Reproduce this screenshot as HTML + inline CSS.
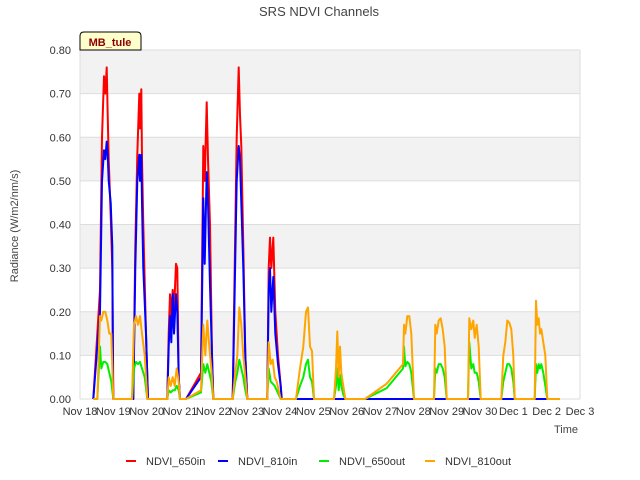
<!DOCTYPE html>
<html><head><meta charset="utf-8"><style>body{margin:0;background:#fff}svg{display:block;font-family:"Liberation Sans","DejaVu Sans",sans-serif}</style></head>
<body>
<svg id="chart" width="640" height="480" viewBox="0 0 640 480">
<text x="319" y="16" text-anchor="middle" font-size="13" fill="#444">SRS NDVI Channels</text>
<g id="bands"></g>
<g id="grid"></g>
<g id="series"></g>
<g id="axes"></g>
<text transform="translate(18,226) rotate(-90)" text-anchor="middle" font-size="11" fill="#444">Radiance (W/m2/nm/s)</text>
<text x="578" y="433" text-anchor="end" font-size="11" fill="#444">Time</text>
<g>
<path d="M80,50 L80,36 Q80,32 84,32 L137,32 Q141,32 141,36 L141,50 Z" fill="#ffffcc" stroke="#000" stroke-width="1"/>
<text x="110" y="46" text-anchor="middle" font-size="11" font-weight="bold" fill="#8b0000">MB_tule</text>
</g>
<g id="legend"></g>
</svg>
<script>
const xTickLabels=["Nov 18","Nov 19","Nov 20","Nov 21","Nov 22","Nov 23","Nov 24","Nov 25","Nov 26","Nov 27","Nov 28","Nov 29","Nov 30","Dec 1","Dec 2","Dec 3"];
const yTicks=[0,0.1,0.2,0.3,0.4,0.5,0.6,0.7,0.8];
const inTimes=[0.4,0.6,0.66,0.72,0.76,0.8,0.83,0.86,0.92,0.97,0.99,1.0, 1.6,1.66,1.72,1.78,1.8,1.84,1.86,1.9,1.98,2.04, 2.62,2.66,2.7,2.74,2.78,2.82,2.88,2.92,2.96,3.0, 3.18,3.63,3.7,3.74,3.8,3.84,3.9,3.96,4.0, 4.58,4.64,4.7,4.76,4.8,4.84,4.9,4.96,5.02, 5.62,5.66,5.7,5.74,5.8,5.86,5.94,6.02,6.05, 14.05];
const ndvi650in=[0,0.25,0.6,0.74,0.7,0.76,0.65,0.55,0.42,0.3,0.1,0, 0,0.35,0.56,0.7,0.62,0.71,0.55,0.4,0.15,0, 0,0.15,0.24,0.19,0.25,0.2,0.31,0.3,0.05,0, 0,0.06,0.58,0.5,0.68,0.55,0.4,0.1,0, 0,0.3,0.6,0.76,0.65,0.58,0.35,0.1,0, 0,0.3,0.37,0.3,0.37,0.2,0.1,0.03,0, 0];
const ndvi810in=[0,0.2,0.5,0.57,0.55,0.59,0.56,0.5,0.45,0.35,0.05,0, 0,0.3,0.5,0.56,0.5,0.56,0.45,0.3,0.15,0, 0,0.12,0.19,0.13,0.24,0.15,0.24,0.2,0.05,0, 0,0.05,0.46,0.31,0.52,0.45,0.26,0.1,0, 0,0.25,0.5,0.58,0.55,0.45,0.3,0.1,0, 0,0.25,0.3,0.2,0.28,0.15,0.08,0.03,0, 0];
const outTimes=[0.4,0.52,0.6,0.64,0.7,0.76,0.82,0.88,0.94,1.0, 1.56,1.62,1.68,1.74,1.8,1.86,1.94,2.02, 2.62,2.66,2.72,2.78,2.84,2.9,2.96,3.0, 3.18,3.63,3.7,3.76,3.82,3.88,3.94,4.0, 4.58,4.66,4.72,4.78,4.84,4.9,4.96,5.02, 5.62,5.66,5.72,5.78,5.84,5.9,5.96,6.02, 6.48,6.6,6.7,6.78,6.84,6.9,6.96,7.02, 7.62,7.68,7.72,7.76,7.8,7.84,7.9,7.96, 8.55,9.2,9.69,9.72,9.76,9.82,9.88,9.94,10.02, 10.62,10.66,10.7,10.76,10.82,10.88,10.94,11.0, 11.64,11.68,11.74,11.8,11.84,11.9,11.96,12.02, 12.64,12.7,12.76,12.82,12.88,12.94,13.0,13.04, 13.64,13.68,13.72,13.76,13.8,13.84,13.9,13.96,14.02, 14.4];
const ndvi810out=[0,0,0.19,0.18,0.2,0.2,0.18,0.15,0.15,0, 0,0.17,0.19,0.17,0.19,0.15,0.1,0, 0,0.05,0.03,0.05,0.03,0.07,0.04,0, 0,0.02,0.17,0.1,0.18,0.12,0.07,0, 0,0.06,0.1,0.21,0.17,0.1,0.05,0, 0,0.13,0.08,0.09,0.05,0.04,0.02,0, 0,0.07,0.12,0.2,0.21,0.12,0.11,0, 0,0.07,0.155,0.05,0.12,0.06,0.03,0, 0,0.035,0.08,0.17,0.15,0.19,0.19,0.15,0, 0,0.17,0.15,0.18,0.185,0.16,0.12,0, 0,0.185,0.16,0.18,0.14,0.17,0.12,0, 0,0.1,0.13,0.18,0.175,0.16,0.1,0, 0,0.225,0.17,0.185,0.15,0.16,0.13,0.1,0, 0];
const ndvi650out=[0,0,0.12,0.07,0.085,0.085,0.08,0.06,0.04,0, 0,0.07,0.085,0.08,0.085,0.07,0.05,0, 0,0.02,0.015,0.02,0.02,0.03,0.02,0, 0,0.015,0.08,0.06,0.08,0.06,0.04,0, 0,0.04,0.06,0.09,0.07,0.05,0.02,0, 0,0.07,0.04,0.035,0.03,0.02,0.01,0, 0,0.03,0.05,0.08,0.09,0.05,0.04,0, 0,0.03,0.07,0.02,0.055,0.03,0.01,0, 0,0.025,0.07,0.12,0.075,0.085,0.08,0.06,0, 0,0.07,0.06,0.08,0.08,0.07,0.05,0, 0,0.13,0.07,0.08,0.06,0.06,0.04,0, 0,0.04,0.06,0.08,0.08,0.07,0.04,0, 0,0.08,0.06,0.08,0.07,0.08,0.06,0.03,0, 0];
const seriesNames=["NDVI_650in","NDVI_810in","NDVI_650out","NDVI_810out"];
const seriesColors=["#ff0000","#0000ff","#00ee00","#ffa500"];
const NS="http://www.w3.org/2000/svg";
const L=80,R=580,T=50,B=399;
const xs=t=>L+(R-L)*t/15;
const ys=v=>B-(B-T)*v/0.8;
function mk(tag,attrs,parent){const e=document.createElementNS(NS,tag);for(const k in attrs)e.setAttribute(k,attrs[k]);parent.appendChild(e);return e;}
const bands=document.getElementById('bands'),grid=document.getElementById('grid'),axes=document.getElementById('axes'),ser=document.getElementById('series'),leg=document.getElementById('legend');
mk('rect',{x:L,y:T,width:R-L,height:B-T,fill:'#fff'},bands);
for(let i=0;i<yTicks.length-1;i++){if(i%2===1){const r=mk('rect',{x:L,y:ys(yTicks[i+1]),width:R-L,height:ys(yTicks[i])-ys(yTicks[i+1]),fill:'#f2f2f2'},bands);

}}
yTicks.forEach(v=>{const l=mk('line',{x1:L,x2:R,y1:ys(v),y2:ys(v),stroke:'#dddddd'},grid);


const t=mk('text',{x:L-9,y:ys(v)+4,'text-anchor':'end','font-size':'11',fill:'#333'},axes);t.textContent=v.toFixed(2);

});
mk('line',{x1:R,x2:R,y1:T,y2:B,stroke:'#dddddd'},grid);
mk('line',{x1:L,x2:L,y1:T,y2:B,stroke:'#dddddd'},grid);
xTickLabels.forEach((s,i)=>{const t=mk('text',{x:xs(i),y:415,'text-anchor':'middle','font-size':'11',fill:'#333'},axes);t.textContent=s;

});
const data=[[inTimes,ndvi650in],[inTimes,ndvi810in],[outTimes,ndvi650out],[outTimes,ndvi810out]];
data.forEach((d,k)=>{const pts=d[0].map((t,i)=>xs(t).toFixed(1)+','+ys(d[1][i]).toFixed(1)).join(' ');
const p=mk('polyline',{points:pts,fill:'none',stroke:seriesColors[k],'stroke-width':'2','stroke-linejoin':'round'},ser);

});
const legX=[126,218,319,425];
seriesNames.forEach((n,k)=>{const g=mk('g',{},leg);


mk('line',{x1:legX[k],x2:legX[k]+10,y1:461,y2:461,stroke:seriesColors[k],'stroke-width':'2'},g);
const t=mk('text',{x:legX[k]+20,y:465,'font-size':'11',fill:'#333'},g);t.textContent=n;});
</script>
</body></html>
